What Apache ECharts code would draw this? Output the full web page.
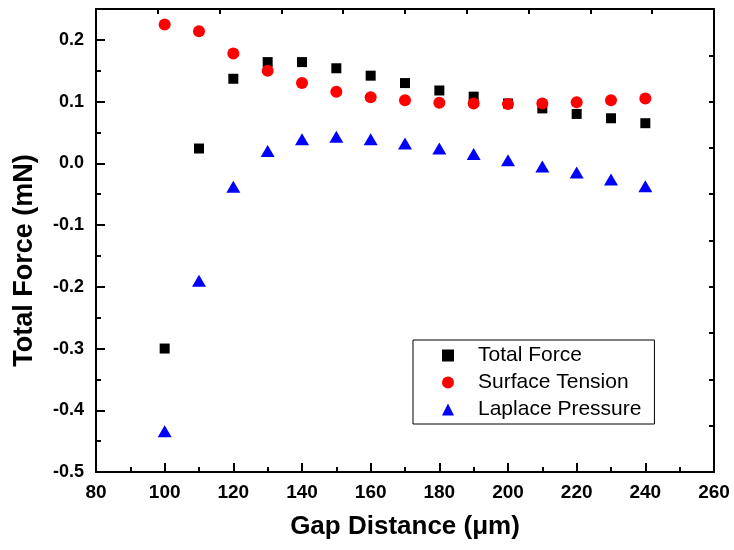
<!DOCTYPE html>
<html>
<head>
<meta charset="utf-8">
<script src="https://cdn.jsdelivr.net/npm/echarts@6/dist/echarts.min.js"></script>
<style>
  html, body { margin: 0; padding: 0; background: #fff; }
  #chart { width: 734px; height: 550px; }
</style>
</head>
<body>
<div id="chart"></div>
<script>
// Gap distance (µm) for each measurement
const gapDistance = [100, 110, 120, 130, 140, 150, 160, 170, 180, 190, 200, 210, 220, 230, 240];
// Forces in mN
const totalForce = [-0.300, 0.024, 0.137, 0.164, 0.164, 0.154, 0.142, 0.130, 0.118, 0.108, 0.097, 0.089, 0.080, 0.073, 0.065];
const surfaceTension = [0.225, 0.214, 0.178, 0.150, 0.130, 0.116, 0.107, 0.102, 0.098, 0.097, 0.096, 0.097, 0.099, 0.102, 0.105];
const laplacePressure = [-0.434, -0.190, -0.038, 0.020, 0.039, 0.043, 0.039, 0.032, 0.024, 0.015, 0.005, -0.005, -0.015, -0.026, -0.037];

const seriesNames = ['Total Force', 'Surface Tension', 'Laplace Pressure'];

const pairs = (xs, ys) => xs.map((x, i) => [x, ys[i]]);

const FONT = 'Arial, "Liberation Sans", sans-serif';
const axisLine = { show: true, onZero: false, lineStyle: { color: '#000', width: 2 } };

const chart = echarts.init(document.getElementById('chart'), null, { renderer: 'canvas' });

chart.setOption({
  animation: false,
  backgroundColor: '#fff',
  grid: { left: 96, right: 20, top: 9, bottom: 78, containLabel: false },
  legend: {
    orient: 'vertical',
    left: 413,
    top: 340,
    data: seriesNames,
    itemWidth: 12,
    itemHeight: 12,
    itemGap: 6,
    padding: [5, 13, 4, 29],
    borderColor: '#000',
    borderWidth: 1,
    backgroundColor: '#fff',
    textStyle: { fontFamily: FONT, fontSize: 21, color: '#000', lineHeight: 21, padding: [0, 0, 0, 19] }
  },
  xAxis: [
    {
      type: 'value',
      min: 80, max: 260, interval: 20,
      name: 'Gap Distance (\u03BCm)',
      nameLocation: 'middle',
      nameGap: 42,
      nameTextStyle: { fontFamily: FONT, fontSize: 26, fontWeight: 'bold', color: '#000' },
      axisLine: axisLine,
      axisTick: { show: true, inside: true, length: 9, lineStyle: { color: '#000', width: 2 } },
      minorTick: { show: true, splitNumber: 2, length: 5, lineStyle: { color: '#000', width: 2 } },
      axisLabel: { margin: 11, fontFamily: FONT, fontSize: 19, fontWeight: 'bold', color: '#000' },
      splitLine: { show: false }
    },
    {
      // mirrored frame edge along the top
      type: 'value', position: 'top', gridIndex: 0,
      min: 0, max: 10, interval: 1,
      axisLine: axisLine,
      axisTick: { show: true, inside: true, length: 5, lineStyle: { color: '#000', width: 2 } },
      axisLabel: { show: false },
      splitLine: { show: false }
    }
  ],
  yAxis: [
    {
      type: 'value',
      min: -0.5, max: 0.25, interval: 0.1,
      name: 'Total Force (mN)',
      nameLocation: 'middle',
      nameGap: 58,
      nameTextStyle: { fontFamily: FONT, fontSize: 27, fontWeight: 'bold', color: '#000', padding: [0, 40, 0, 0] },
      axisLine: axisLine,
      axisTick: { show: true, inside: true, length: 9, lineStyle: { color: '#000', width: 2 } },
      axisLabel: {
        margin: 12, fontFamily: FONT, fontSize: 18, fontWeight: 'bold', color: '#000',
        showMaxLabel: false,
        formatter: v => (Math.abs(v) < 1e-9 ? 0 : v).toFixed(1)
      },
      splitLine: { show: false }
    },
    {
      // half-step ticks on the left edge
      type: 'value', position: 'left',
      min: -0.5, max: 0.25, interval: 0.05,
      axisLine: { show: false },
      axisTick: { show: true, inside: true, length: 5, lineStyle: { color: '#000', width: 2 } },
      axisLabel: { show: false },
      splitLine: { show: false }
    },
    {
      // mirrored frame edge on the right
      type: 'value', position: 'right',
      min: 0, max: 10, interval: 1,
      axisLine: axisLine,
      axisTick: { show: true, inside: true, length: 5, lineStyle: { color: '#000', width: 2 } },
      axisLabel: { show: false },
      splitLine: { show: false }
    }
  ],
  series: [
    {
      name: seriesNames[0], type: 'scatter', xAxisIndex: 0, yAxisIndex: 0,
      symbol: 'rect', symbolSize: 10,
      itemStyle: { color: '#000', opacity: 1 },
      data: pairs(gapDistance, totalForce)
    },
    {
      name: seriesNames[1], type: 'scatter', xAxisIndex: 0, yAxisIndex: 0,
      symbol: 'circle', symbolSize: 12,
      itemStyle: { color: '#ff0000', opacity: 1 },
      data: pairs(gapDistance, surfaceTension)
    },
    {
      name: seriesNames[2], type: 'scatter', xAxisIndex: 0, yAxisIndex: 0,
      symbol: 'triangle', symbolSize: [14, 12],
      itemStyle: { color: '#0000ff', opacity: 1 },
      data: pairs(gapDistance, laplacePressure)
    }
  ]
});
</script>
</body>
</html>
